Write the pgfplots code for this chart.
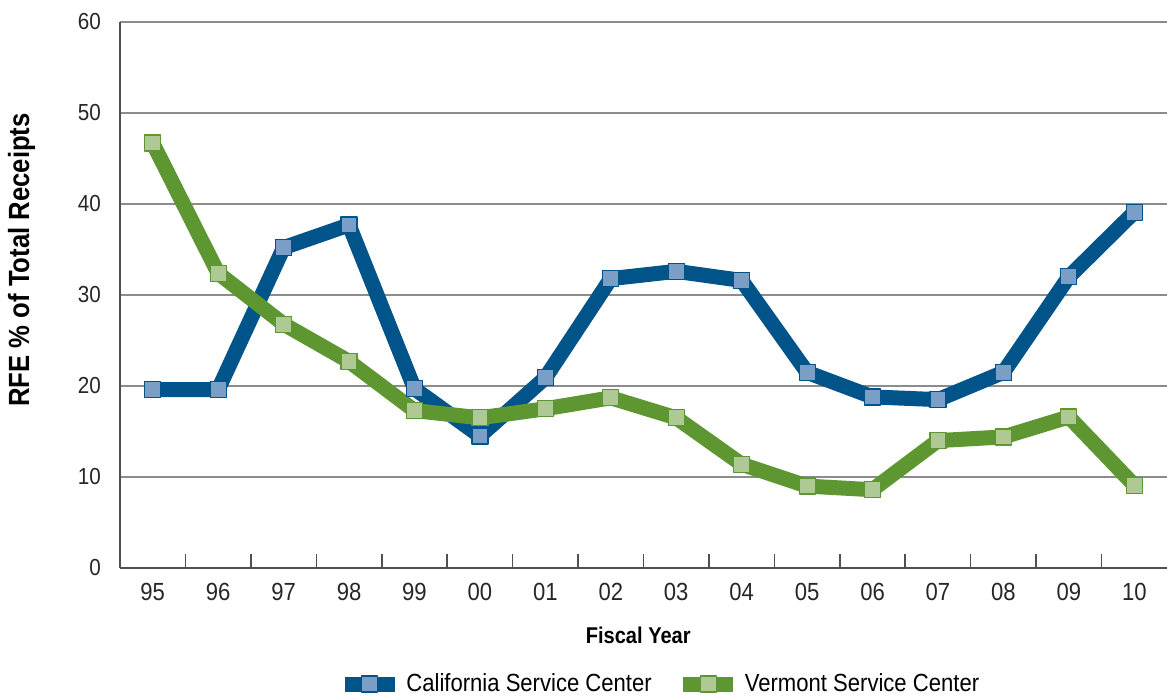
\documentclass[border=0pt]{standalone}
\usepackage{fontspec}
\setmainfont{Liberation Sans}[FakeStretch=0.89,BoldFeatures={FakeStretch=0.88}]
\usepackage{pgfplots}
\pgfplotsset{compat=1.18}
\definecolor{calline}{HTML}{00548A}
\definecolor{calfill}{HTML}{7A9EC5}
\definecolor{verline}{HTML}{5E9732}
\definecolor{verfill}{HTML}{AFC994}
\definecolor{gridc}{HTML}{8C8C8C}
\definecolor{axc}{HTML}{505050}
\begin{document}
\begin{tikzpicture}
\begin{axis}[
  at={(60pt,66pt)}, anchor=south west,
  scale only axis, width=523.5pt, height=273pt,
  xmin=-0.5, xmax=15.5, ymin=0, ymax=60,
  /pgf/number format/assume math mode=true,
  axis x line*=bottom, axis y line*=left,
  axis line style={axc, line width=0.8pt},
  xtick={0,...,15},
  xticklabels={95,96,97,98,99,00,01,02,03,04,05,06,07,08,09,10},
  minor xtick={0.5,1.5,...,14.5},
  major tick length=0pt,
  minor tick length=7pt,
  tick align=inside,
  minor tick style={axc, line width=0.8pt},
  ytick={0,10,...,60},
  ymajorgrids, grid style={gridc, line width=0.9pt},
  xticklabel style={font=\fontsize{12.4}{14}\selectfont, yshift=-4pt, text=black!85},
  yticklabel style={font=\fontsize{11.6}{13}\selectfont, xshift=-6pt, text=black!85},
  xlabel={\textbf{Fiscal Year}},
  xlabel style={font=\fontsize{11.4}{13}\selectfont, at={(axis description cs:0.495,-0.123)}, anchor=center},
  ylabel={\textbf{RFE \% of Total Receipts}},
  ylabel style={font=\fontsize{14.6}{16}\selectfont, at={(axis description cs:-0.094,0.564)}, anchor=center},
  legend style={draw=none, fill=none, at={(axis description cs:0.516,-0.2125)}, anchor=center,
    font=\fontsize{12.4}{14}\selectfont, legend columns=2,
    /tikz/every even column/.append style={column sep=10pt}},
  legend image code/.code={\draw[mark repeat=2,mark phase=2] plot coordinates {(0cm,0cm)(0.44cm,0cm)(0.88cm,0cm)};},
  clip=false,
]
\addplot[calline, line width=7.5pt, line join=round, mark=square*, mark size=4pt,
  mark options={fill=calfill, draw=calline, line width=0.6pt}]
  coordinates {(0,19.6)(1,19.6)(2,35.2)(3,37.7)(4,19.7)(5,14.5)(6,20.9)(7,31.8)
  (8,32.6)(9,31.6)(10,21.5)(11,18.8)(12,18.5)(13,21.5)(14,32.0)(15,39.1)};
\addlegendentry{California Service Center}
\addplot[verline, line width=7.5pt, line join=round, mark=square*, mark size=4pt,
  mark options={fill=verfill, draw=verline, line width=0.6pt}]
  coordinates {(0,46.7)(1,32.4)(2,26.8)(3,22.7)(4,17.3)(5,16.5)(6,17.5)(7,18.7)
  (8,16.5)(9,11.4)(10,9.0)(11,8.6)(12,14.0)(13,14.4)(14,16.6)(15,9.1)};
\addlegendentry{Vermont Service Center}
\end{axis}
\pgfresetboundingbox
\path[use as bounding box] (0,0) rectangle (583.5pt,350pt);
\end{tikzpicture}
\end{document}
